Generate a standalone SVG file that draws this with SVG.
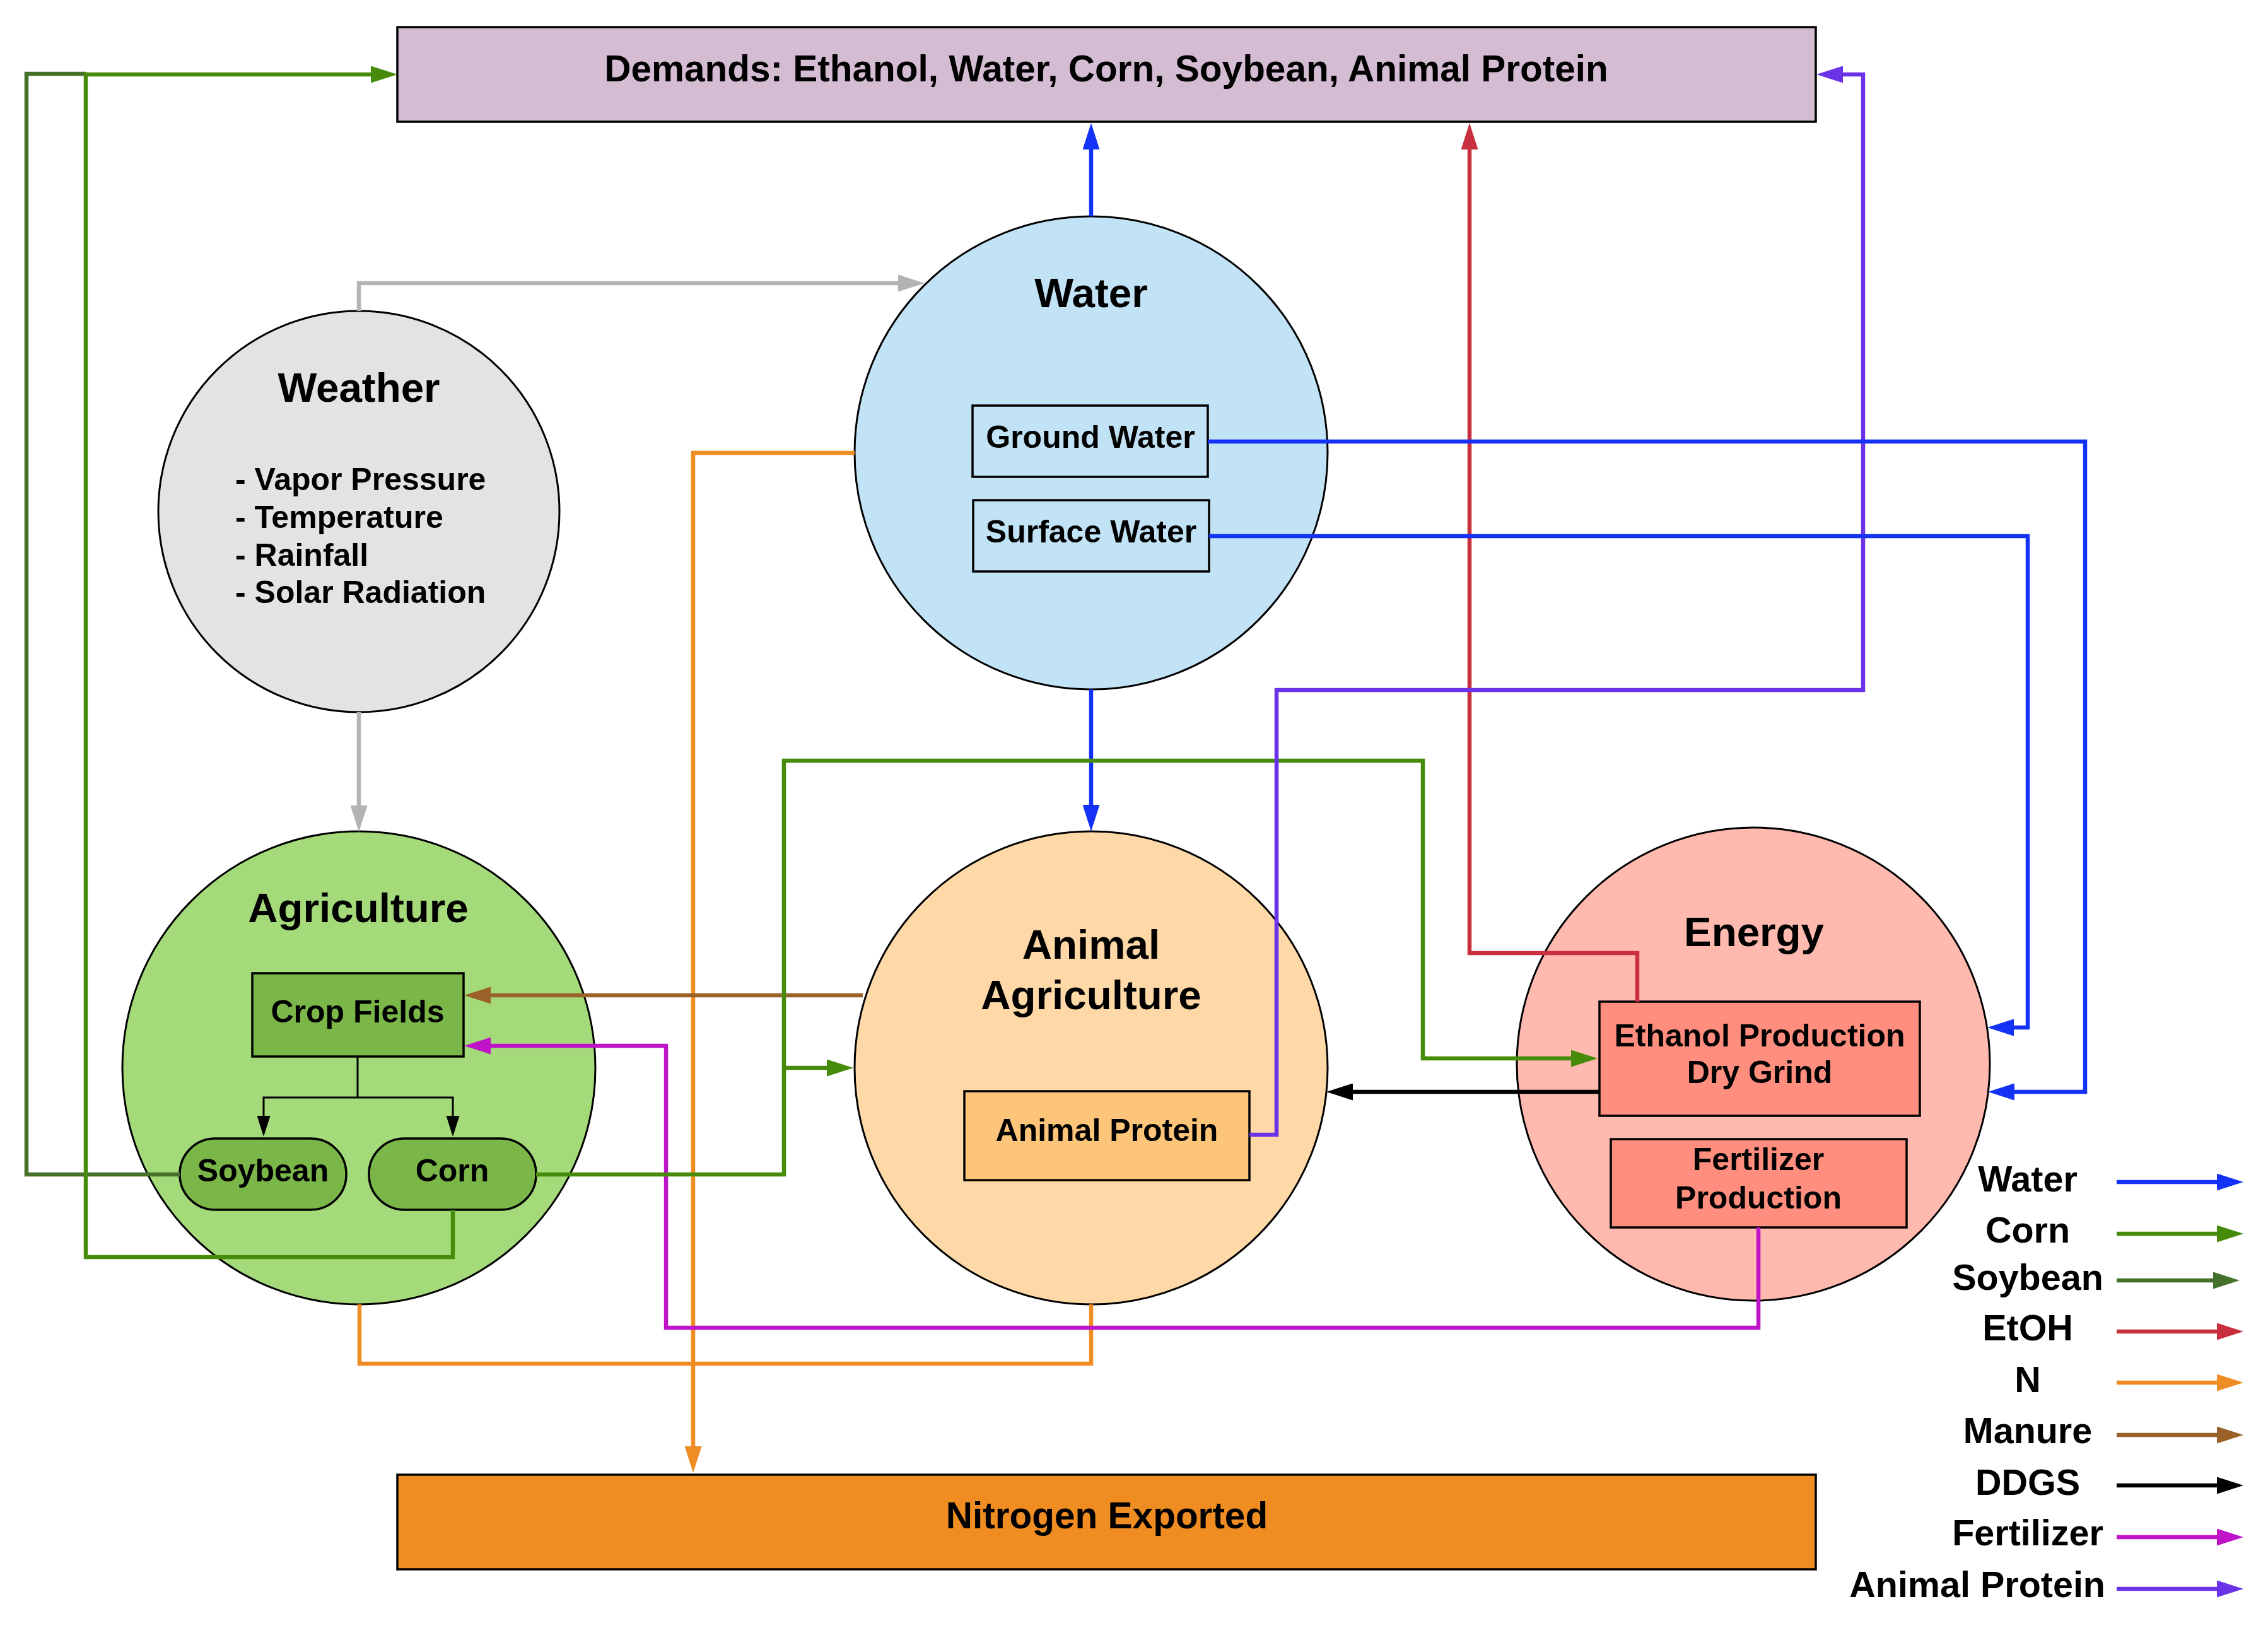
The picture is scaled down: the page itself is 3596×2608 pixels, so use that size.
<svg xmlns="http://www.w3.org/2000/svg" width="3596" height="2608" viewBox="0 0 3596 2608">
<style>
text{font-family:"Liberation Sans",Arial,sans-serif;font-weight:bold;fill:#000;text-anchor:middle}
.t{font-size:65.5px}
.s{font-size:50px}
.l{font-size:50px;text-anchor:start}
.b{font-size:58.5px}
.lg{font-size:57.5px}
.c{stroke:#000;stroke-width:3}
.r{stroke:#000;stroke-width:3.5}
.w{fill:none;stroke-width:6.5;stroke-linejoin:miter}
</style>
<defs>
<marker id="mBlue" viewBox="0 0 42 27" refX="12" refY="13.5" markerWidth="42" markerHeight="27" markerUnits="userSpaceOnUse" orient="auto"><path d="M0,0 L42,13.5 L0,27 Z" fill="#1432f5"/></marker>
<marker id="mCorn" viewBox="0 0 42 27" refX="12" refY="13.5" markerWidth="42" markerHeight="27" markerUnits="userSpaceOnUse" orient="auto"><path d="M0,0 L42,13.5 L0,27 Z" fill="#468b0a"/></marker>
<marker id="mSoy" viewBox="0 0 42 27" refX="12" refY="13.5" markerWidth="42" markerHeight="27" markerUnits="userSpaceOnUse" orient="auto"><path d="M0,0 L42,13.5 L0,27 Z" fill="#45712a"/></marker>
<marker id="mRed" viewBox="0 0 42 27" refX="12" refY="13.5" markerWidth="42" markerHeight="27" markerUnits="userSpaceOnUse" orient="auto"><path d="M0,0 L42,13.5 L0,27 Z" fill="#c9303e"/></marker>
<marker id="mOr" viewBox="0 0 42 27" refX="12" refY="13.5" markerWidth="42" markerHeight="27" markerUnits="userSpaceOnUse" orient="auto"><path d="M0,0 L42,13.5 L0,27 Z" fill="#ef8c23"/></marker>
<marker id="mBr" viewBox="0 0 42 27" refX="12" refY="13.5" markerWidth="42" markerHeight="27" markerUnits="userSpaceOnUse" orient="auto"><path d="M0,0 L42,13.5 L0,27 Z" fill="#9a6228"/></marker>
<marker id="mBk" viewBox="0 0 42 27" refX="12" refY="13.5" markerWidth="42" markerHeight="27" markerUnits="userSpaceOnUse" orient="auto"><path d="M0,0 L42,13.5 L0,27 Z" fill="#000"/></marker>
<marker id="mMg" viewBox="0 0 42 27" refX="12" refY="13.5" markerWidth="42" markerHeight="27" markerUnits="userSpaceOnUse" orient="auto"><path d="M0,0 L42,13.5 L0,27 Z" fill="#bf13c7"/></marker>
<marker id="mPu" viewBox="0 0 42 27" refX="12" refY="13.5" markerWidth="42" markerHeight="27" markerUnits="userSpaceOnUse" orient="auto"><path d="M0,0 L42,13.5 L0,27 Z" fill="#6b33e8"/></marker>
<marker id="mGr" viewBox="0 0 42 27" refX="12" refY="13.5" markerWidth="42" markerHeight="27" markerUnits="userSpaceOnUse" orient="auto"><path d="M0,0 L42,13.5 L0,27 Z" fill="#b3b3b3"/></marker>
<marker id="mSm" viewBox="0 0 33 21" refX="10" refY="10.5" markerWidth="33" markerHeight="21" markerUnits="userSpaceOnUse" orient="auto"><path d="M0,0 L33,10.5 L0,21 Z" fill="#000"/></marker>
</defs>
<rect width="3596" height="2608" fill="#fff"/>

<g id="demands">
<rect class="r" x="630" y="43" width="2249" height="150" fill="#d4bcd2"/>
<text class="b" x="1754" y="129">Demands: Ethanol, Water, Corn, Soybean, Animal Protein</text>
</g>

<g id="weather">
<circle class="c" cx="569" cy="811" r="318" fill="#e3e3e3"/>
<text class="t" x="569" y="637">Weather</text>
<text class="l" x="373" y="777">- Vapor Pressure</text>
<text class="l" x="373" y="837">- Temperature</text>
<text class="l" x="373" y="897">- Rainfall</text>
<text class="l" x="373" y="956">- Solar Radiation</text>
</g>

<g id="water">
<circle class="c" cx="1730" cy="718" r="375" fill="#c1e3f5"/>
<text class="t" x="1730" y="487">Water</text>
<g id="ground-water">
<rect class="r" x="1542" y="643" width="373" height="113" fill="#c1e3f5"/>
<text class="s" x="1729" y="710">Ground Water</text>
</g>
<g id="surface-water">
<rect class="r" x="1543" y="793" width="374" height="113" fill="#c1e3f5"/>
<text class="s" x="1730" y="860">Surface Water</text>
</g>
</g>

<g id="agriculture">
<circle class="c" cx="569" cy="1693" r="375" fill="#a4da79"/>
<text class="t" x="568" y="1462">Agriculture</text>
<g id="crop-fields">
<rect class="r" x="400" y="1543" width="335" height="132" fill="#7ab648"/>
<text class="s" x="567" y="1621">Crop Fields</text>
</g>
<g id="soybean">
<rect class="r" x="285" y="1805" width="264" height="113" rx="56" ry="56" fill="#7ab648"/>
<text class="s" x="417" y="1873">Soybean</text>
</g>
<g id="corn">
<rect class="r" x="585" y="1805" width="265" height="113" rx="56" ry="56" fill="#7ab648"/>
<text class="s" x="717" y="1873">Corn</text>
</g>
</g>

<g id="animal-agriculture">
<circle class="c" cx="1730" cy="1693" r="375" fill="#fed9a7"/>
<text class="t" x="1730" y="1520">Animal</text>
<text class="t" x="1730" y="1600">Agriculture</text>
<g id="animal-protein">
<rect class="r" x="1529" y="1730" width="452" height="141" fill="#fdc579"/>
<text class="s" x="1755" y="1809">Animal Protein</text>
</g>
</g>

<g id="energy">
<circle class="c" cx="2780" cy="1687" r="375" fill="#ffb9af"/>
<text class="t" x="2781" y="1500">Energy</text>
<g id="ethanol-production">
<rect class="r" x="2536" y="1588" width="508" height="181" fill="#ff8e7e"/>
<text class="s" x="2790" y="1659">Ethanol Production</text>
<text class="s" x="2790" y="1717">Dry Grind</text>
</g>
<g id="fertilizer-production">
<rect class="r" x="2554" y="1806" width="469" height="140" fill="#ff8e7e"/>
<text class="s" x="2788" y="1855">Fertilizer</text>
<text class="s" x="2788" y="1916">Production</text>
</g>
</g>

<g id="nitrogen-exported">
<rect class="r" x="630" y="2338" width="2249" height="150" fill="#ef8c22"/>
<text class="b" x="1755" y="2423">Nitrogen Exported</text>
</g>

<g id="connectors">
<path class="w" stroke="#1432f5" d="M1730,343 V225" marker-end="url(#mBlue)"/>
<path class="w" stroke="#b3b3b3" d="M569,493 V449 H1436" marker-end="url(#mGr)"/>
<path class="w" stroke="#b3b3b3" d="M569,1129 V1289" marker-end="url(#mGr)"/>
<path class="w" stroke="#1432f5" d="M1730,1093 V1288" marker-end="url(#mBlue)"/>
<path class="w" stroke="#ef8c23" d="M1355,718 H1099 V2305" marker-end="url(#mOr)"/>
<path class="w" stroke="#ef8c23" d="M570,2068 V2162 H1730 V2068"/>
<path class="w" stroke="#9a6228" d="M1368,1578 H766" marker-end="url(#mBr)"/>
<path class="w" stroke="#bf13c7" d="M2788,1946 V2105 H1056 V1658 H766" marker-end="url(#mMg)"/>
<path class="w" stroke="#468b0a" d="M850,1862 H1243 V1206 H2256 V1678 H2503" marker-end="url(#mCorn)"/>
<path class="w" stroke="#468b0a" d="M1243,1693 H1323" marker-end="url(#mCorn)"/>
<path class="w" stroke="#45712a" d="M285,1862 H42 V117 H136"/>
<path class="w" stroke="#468b0a" d="M718,1918 V1993 H136 V118 H600" marker-end="url(#mCorn)"/>
<path class="w" stroke="#c9303e" d="M2596,1588 V1511 H2330 V225" marker-end="url(#mRed)"/>
<path class="w" stroke="#6b33e8" d="M1981,1799 H2024 V1094 H2954 V118 H2910" marker-end="url(#mPu)"/>
<path class="w" stroke="#1432f5" d="M1915,700 H3306 V1731 H3182" marker-end="url(#mBlue)"/>
<path class="w" stroke="#1432f5" d="M1917,850 H3215 V1629 H3181" marker-end="url(#mBlue)"/>
<path class="w" stroke="#000" d="M2536,1731 H2133" marker-end="url(#mBk)"/>
<path fill="none" stroke="#000" stroke-width="3" d="M567,1675 V1740 H418 V1779" marker-end="url(#mSm)"/>
<path fill="none" stroke="#000" stroke-width="3" d="M567,1740 H718 V1779" marker-end="url(#mSm)"/>
</g>

<g id="legend">
<text class="lg" x="3215" y="1889">Water</text>
<path class="w" stroke="#1432f5" d="M3356,1874 H3527" marker-end="url(#mBlue)"/>
<text class="lg" x="3215" y="1970">Corn</text>
<path class="w" stroke="#468b0a" d="M3356,1956 H3527" marker-end="url(#mCorn)"/>
<text class="lg" x="3215" y="2045">Soybean</text>
<path class="w" stroke="#45712a" d="M3356,2030 H3521" marker-end="url(#mSoy)"/>
<text class="lg" x="3215" y="2125">EtOH</text>
<path class="w" stroke="#c9303e" d="M3356,2111 H3527" marker-end="url(#mRed)"/>
<text class="lg" x="3215" y="2207">N</text>
<path class="w" stroke="#ef8c23" d="M3356,2192 H3527" marker-end="url(#mOr)"/>
<text class="lg" x="3215" y="2288">Manure</text>
<path class="w" stroke="#9a6228" d="M3356,2275 H3527" marker-end="url(#mBr)"/>
<text class="lg" x="3215" y="2370">DDGS</text>
<path class="w" stroke="#000" d="M3356,2355 H3527" marker-end="url(#mBk)"/>
<text class="lg" x="3215" y="2450">Fertilizer</text>
<path class="w" stroke="#bf13c7" d="M3356,2437 H3527" marker-end="url(#mMg)"/>
<text class="lg" x="3338" y="2532" style="text-anchor:end">Animal Protein</text>
<path class="w" stroke="#6b33e8" d="M3356,2519 H3527" marker-end="url(#mPu)"/>
</g>
</svg>
